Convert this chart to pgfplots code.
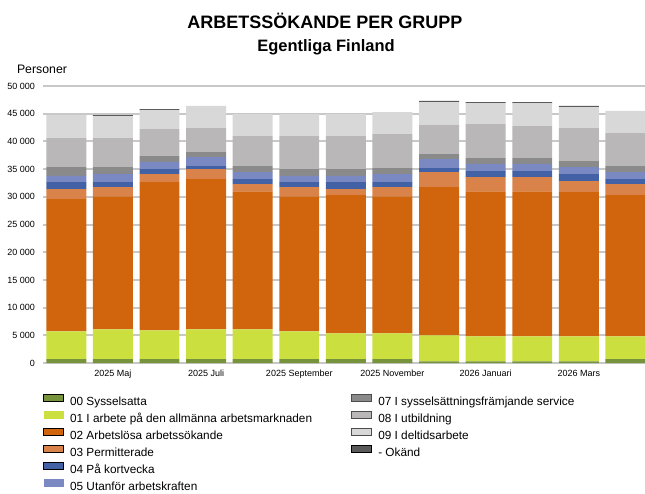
\documentclass[border=0pt]{standalone}
\usepackage{fontspec}
\setmainfont{Liberation Sans}
\usepackage{pgfplots}
\usepackage{pgfplotstable}
\pgfplotsset{compat=1.18}
\definecolor{c00}{HTML}{77933C}
\definecolor{c01}{HTML}{CBE03E}
\definecolor{c02}{HTML}{D0650D}
\definecolor{c03}{HTML}{D9834A}
\definecolor{c04}{HTML}{4361A5}
\definecolor{c05}{HTML}{7A89C2}
\definecolor{c07}{HTML}{8A8A8A}
\definecolor{c08}{HTML}{B9B7B8}
\definecolor{c09}{HTML}{D8D8D8}
\definecolor{cok}{HTML}{5A5A5A}
\definecolor{gridgray}{HTML}{C8C8C8}
\pgfplotsset{
  lgb/.style={legend image code/.code={\draw[fill=#1,draw=black,line width=1.1pt] (0pt,0.5pt) rectangle (20pt,7.5pt);}},
  lgg/.style={legend image code/.code={\draw[fill=#1,draw=black!70,line width=0.9pt] (0pt,0.5pt) rectangle (20pt,7.5pt);}},
  lgn/.style={legend image code/.code={\fill[#1] (0pt,0pt) rectangle (20pt,8pt);}},
}
\pgfplotstableread{
x s00 s01 s02 s03 s04 s05 s07 s08 s09 sok
0 700 5000 23900 1800 1250 1150 1560 5240 4160 0
1 700 5380 24020 1650 900 1510 1200 5240 3980 180
2 700 5200 26750 1450 900 1300 1050 4850 3460 180
3 700 5380 27120 1800 540 1630 900 4330 4000 0
4 700 5380 24920 1300 900 1260 1080 5420 3980 0
5 700 5020 24380 1650 900 1150 1200 5960 3980 0
6 700 4660 24940 1100 1250 1150 1200 5960 3980 0
7 700 4660 24740 1650 900 1450 1080 6150 3970 0
8 300 4700 26750 2710 720 1620 900 5250 4150 200
9 300 4520 26180 2550 1090 1320 1040 6130 3800 170
10 300 4520 26180 2550 1090 1320 1040 5770 4160 170
11 300 4520 26020 1990 1270 1260 1090 5950 3800 200
12 700 4120 25480 2000 900 1260 1080 5960 4000 0
}\datatable
\begin{document}
\begin{tikzpicture}
\path[use as bounding box] (0pt,0pt) rectangle (645pt,-493pt);
\node[font=\bfseries\fontsize{18}{20}\selectfont] at (325pt,-21pt) {ARBETSSÖKANDE PER GRUPP};
\node[font=\bfseries\fontsize{16.5}{18}\selectfont] at (326pt,-47pt) {Egentliga Finland};
\node[font=\fontsize{12.3}{14}\selectfont] at (42pt,-69pt) {Personer};
\begin{axis}[
  at={(43pt,-363pt)}, anchor=south west,
  scale only axis, width=602pt, height=277pt,
  ybar stacked, bar width=0.857,
  xmin=-0.5, xmax=12.42, ymin=0, ymax=50000,
  scaled y ticks=false,
  ytick={0,5000,...,50000},
  yticklabels={0,5 000,10 000,15 000,20 000,25 000,30 000,35 000,40 000,45 000,50 000},
  xtick={1,3,5,7,9,11},
  xticklabels={2025 Maj,2025 Juli,2025 September,2025 November,2026 Januari,2026 Mars},
  major tick length=0pt,
  axis line style={draw=none},
  ymajorgrids, grid style={color=gridgray, line width=2pt},
  tick label style={font=\fontsize{9}{10}\selectfont, inner sep=0pt},
  yticklabel style={xshift=-8pt},
  xticklabel style={yshift=-7pt},
  legend columns=6, transpose legend,
  legend cell align=left,
  legend style={at={(0,-0.113)}, anchor=north west, draw=none, fill=none,
    inner sep=0pt, outer sep=0pt, font=\fontsize{11.8}{14}\selectfont,
    row sep=3.2pt, column sep=0pt,
    nodes={inner sep=0pt, text height=9pt, text depth=2.5pt},
    /tikz/every odd column/.append style={column sep=6pt},
    /tikz/every even column/.append style={column sep=39pt}},
]
\addplot[fill=c00, draw=none, lgb=c00] table[x=x,y=s00]{\datatable};
\addlegendentry{00 Sysselsatta}
\addplot[fill=c01, draw=none, lgn=c01] table[x=x,y=s01]{\datatable};
\addlegendentry{01 I arbete på den allmänna arbetsmarknaden}
\addplot[fill=c02, draw=none, lgb=c02] table[x=x,y=s02]{\datatable};
\addlegendentry{02 Arbetslösa arbetssökande}
\addplot[fill=c03, draw=none, lgb=c03] table[x=x,y=s03]{\datatable};
\addlegendentry{03 Permitterade}
\addplot[fill=c04, draw=none, lgb=c04] table[x=x,y=s04]{\datatable};
\addlegendentry{04 På kortvecka}
\addplot[fill=c05, draw=none, lgn=c05] table[x=x,y=s05]{\datatable};
\addlegendentry{05 Utanför arbetskraften}
\addplot[fill=c07, draw=none, lgg=c07] table[x=x,y=s07]{\datatable};
\addlegendentry{07 I sysselsättningsfrämjande service}
\addplot[fill=c08, draw=none, lgg=c08] table[x=x,y=s08]{\datatable};
\addlegendentry{08 I utbildning}
\addplot[fill=c09, draw=none, lgg=c09] table[x=x,y=s09]{\datatable};
\addlegendentry{09 I deltidsarbete}
\addplot[fill=cok, draw=none, lgb=cok] table[x=x,y=sok]{\datatable};
\addlegendentry{- Okänd}
\addlegendimage{empty legend}\addlegendentry{}
\addlegendimage{empty legend}\addlegendentry{}
\end{axis}
\end{tikzpicture}
\end{document}
